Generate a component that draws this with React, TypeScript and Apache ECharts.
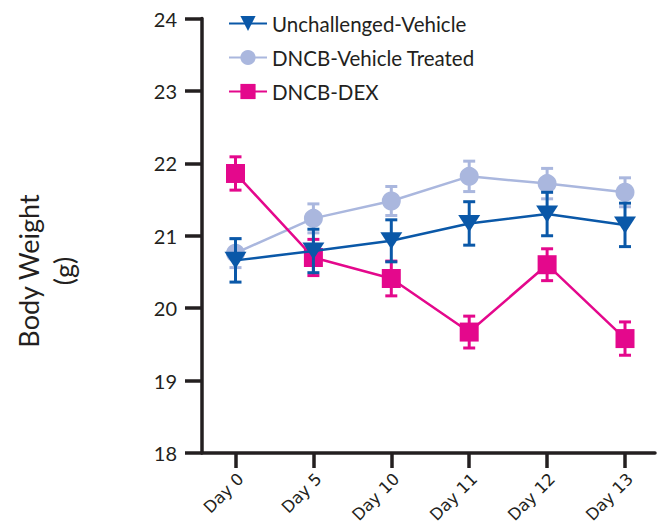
import React, { useEffect, useRef } from "react";
import * as echarts from "echarts";

const days = ["Day 0", "Day 5", "Day 10", "Day 11", "Day 12", "Day 13"];
const dayIndex = [0, 1, 2, 3, 4, 5];

const unchallengedMean = [20.66, 20.79, 20.93, 21.17, 21.3, 21.15];
const unchallengedErr = [0.3, 0.3, 0.29, 0.3, 0.3, 0.3];
const vehicleMean = [20.76, 21.24, 21.48, 21.82, 21.72, 21.6];
const vehicleErr = [0.2, 0.2, 0.2, 0.21, 0.21, 0.2];
const dexMean = [21.86, 20.7, 20.41, 19.67, 20.6, 19.58];
const dexErr = [0.23, 0.25, 0.24, 0.22, 0.22, 0.23];

const yTicks = [18, 19, 20, 21, 22, 23, 24];

const names = ["Unchallenged-Vehicle", "DNCB-Vehicle Treated", "DNCB-DEX"];
const colors = ["#0A58A8", "#AAB7DE", "#E4088C"];

const FONT = "Lato";
const INK = "#231F20";

function errorSeries(mean: number[], err: number[], color: string, z: number) {
  return {
    type: "custom",
    z,
    silent: true,
    data: dayIndex.map((d, i) => [d, mean[i], err[i]]),
    encode: { x: 0, y: 1 },
    renderItem: (params: any, api: any) => {
      const x = api.value(0);
      const m = api.value(1);
      const e = api.value(2);
      const top = api.coord([x, m + e]);
      const bot = api.coord([x, m - e]);
      const hw = 6;
      const style = { stroke: color, lineWidth: 3 };
      return {
        type: "group",
        children: [
          { type: "line", shape: { x1: top[0], y1: top[1], x2: bot[0], y2: bot[1] }, style },
          { type: "line", shape: { x1: top[0] - hw, y1: top[1], x2: top[0] + hw, y2: top[1] }, style },
          { type: "line", shape: { x1: bot[0] - hw, y1: bot[1], x2: bot[0] + hw, y2: bot[1] }, style },
        ],
      };
    },
  };
}

function lineSeries(name: string, mean: number[], color: string, symbol: string, size: any, z: number) {
  return {
    type: "line",
    name,
    z,
    data: dayIndex.map((d, i) => [d, mean[i]]),
    symbol,
    symbolSize: size,
    showAllSymbol: true,
    lineStyle: { color, width: 2.5 },
    itemStyle: { color, opacity: 1 },
    emphasis: { disabled: true },
  };
}

export default function App() {
  const ref = useRef<HTMLDivElement>(null);
  useEffect(() => {
    if (!ref.current) return;
    const chart = echarts.init(ref.current, undefined, { renderer: "svg" });
    chart.setOption({
      animation: false,
      backgroundColor: "#ffffff",
      grid: { left: 202, right: 7, top: 18.5, bottom: 74, containLabel: false, outerBoundsMode: "none" },
      legend: {
        orient: "vertical",
        left: 223,
        top: 8,
        itemWidth: 38,
        itemHeight: 19,
        itemGap: 13,
        data: names,
        textStyle: { fontFamily: FONT, fontSize: 20.5, color: INK },
      },
      xAxis: {
        type: "value",
        min: -0.43,
        max: 5.385,
        splitLine: { show: false },
        axisLine: { show: true, onZero: false, lineStyle: { color: INK, width: 3.5 } },
        axisTick: {
          show: true,
          customValues: dayIndex,
          length: 15,
          lineStyle: { color: INK, width: 3.5 },
        },
        axisLabel: {
          customValues: dayIndex,
          rotate: 45,
          margin: 18,
          verticalAlign: "top",
          lineHeight: 15,
          fontFamily: "DejaVu Sans",
          fontSize: 16.5,
          color: INK,
          formatter: (v: number) => days[Math.round(v)] ?? "",
        },
      },
      yAxis: {
        type: "value",
        min: yTicks[0],
        max: yTicks[yTicks.length - 1],
        interval: 1,
        splitLine: { show: false },
        axisLine: { show: true, onZero: false, lineStyle: { color: INK, width: 3.5 } },
        axisTick: { show: true, length: 17, lineStyle: { color: INK, width: 3.5 } },
        axisLabel: { margin: 25, fontFamily: FONT, fontSize: 20, color: INK },
      },
      graphic: [
        {
          type: "text",
          x: 46,
          y: 271,
          rotation: Math.PI / 2,
          style: {
            text: "Body Weight\n(g)",
            fontFamily: FONT,
            fontSize: 27,
            lineHeight: 35,
            fill: INK,
            align: "center",
            verticalAlign: "middle",
          },
        },
      ],
      series: [
        errorSeries(vehicleMean, vehicleErr, colors[1], 2),
        lineSeries(names[1], vehicleMean, colors[1], "circle", 19, 2),
        errorSeries(dexMean, dexErr, colors[2], 3),
        lineSeries(names[2], dexMean, colors[2], "rect", 19, 3),
        errorSeries(unchallengedMean, unchallengedErr, colors[0], 4),
        lineSeries(names[0], unchallengedMean, colors[0], "path://M0 0L22 0L11 17Z", [22, 17], 4),
      ],
    });
    return () => chart.dispose();
  }, []);
  return (
    <div
      ref={ref}
      style={{ position: "fixed", left: 0, top: 0, width: 662, height: 527 }}
    />
  );
}
